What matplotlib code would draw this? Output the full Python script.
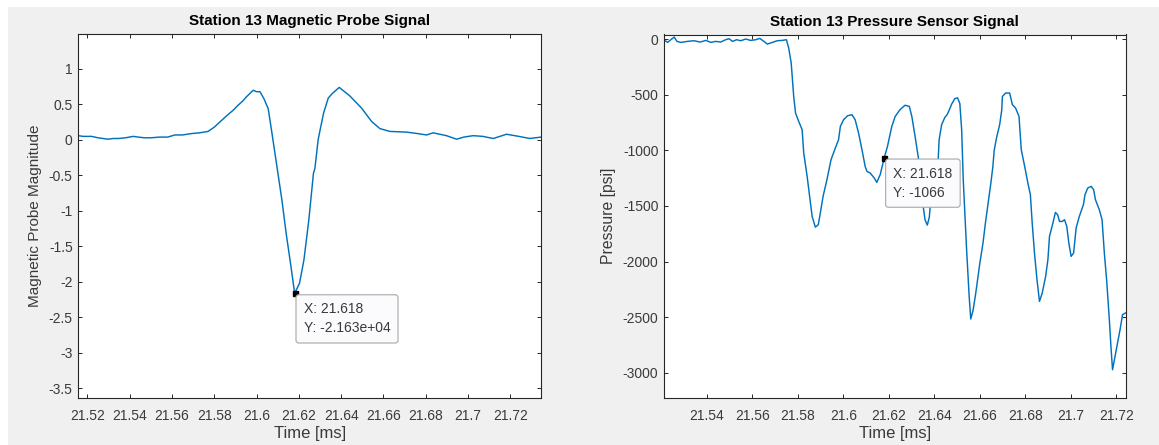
import matplotlib
matplotlib.use("Agg")
import matplotlib.pyplot as plt
from matplotlib.ticker import MultipleLocator, FuncFormatter
from matplotlib.patches import Rectangle

plt.rcParams['font.family'] = ['Liberation Sans', 'DejaVu Sans']
plt.rcParams['axes.unicode_minus'] = False

# ---- Station 13 magnetic probe (raw units, axis shown in 1e4) ----
mag_time = [
    21.5157, 21.5180, 21.5220, 21.5250, 21.5298, 21.5320, 21.5346, 21.5380,
    21.5417, 21.5440, 21.5470, 21.5500, 21.5543, 21.5580, 21.5614, 21.5650,
    21.5693, 21.5730, 21.5771, 21.5800, 21.5818, 21.5840, 21.5866, 21.5890,
    21.5913, 21.5935, 21.5953, 21.5970, 21.5984, 21.6000, 21.6016, 21.6035,
    21.6055, 21.6070, 21.6087, 21.6100, 21.6120, 21.6140, 21.6163, 21.6180,
    21.6203, 21.6224, 21.6247, 21.6269, 21.6276, 21.6291, 21.6299, 21.6317,
    21.6339, 21.6360, 21.6391, 21.6441, 21.6496, 21.6544, 21.6583, 21.6630,
    21.6709, 21.6760, 21.6804, 21.6835, 21.6898, 21.6946, 21.6980, 21.7024,
    21.7070, 21.7119, 21.7182, 21.7240, 21.7292, 21.7345,
]
mag_value = [
    600, 500, 500, 300, 100, 200, 200, 300,
    500, 400, 300, 300, 400, 400, 700, 700,
    900, 1000, 1200, 1800, 2300, 2900, 3600, 4200,
    4900, 5500, 6100, 6600, 7000, 6800, 6800, 5800,
    4400, 1500, -1900, -4500, -8500, -13200, -17900, -21630,
    -20200, -16900, -11300, -4700, -4000, 0, 1200, 3800,
    5900, 6600, 7400, 6200, 4500, 2600, 1600, 1200,
    1100, 900, 700, 1000, 600, 100, 400, 600,
    500, 200, 800, 500, 200, 400,
]

# ---- Station 13 pressure sensor (psi) ----
prs_time = [
    21.5214, 21.5228, 21.5242, 21.5257, 21.5269, 21.5286, 21.5315, 21.5344,
    21.5371, 21.5396, 21.5418, 21.5439, 21.5461, 21.5483, 21.5498, 21.5513,
    21.5531, 21.5549, 21.5571, 21.5593, 21.5615, 21.5633, 21.5651, 21.5666,
    21.5688, 21.5710, 21.5731, 21.5750, 21.5760, 21.5771, 21.5782, 21.5790,
    21.5804, 21.5819, 21.5826, 21.5841, 21.5852, 21.5863, 21.5877, 21.5890,
    21.5899, 21.5911, 21.5928, 21.5946, 21.5965, 21.5979, 21.5987, 21.6001,
    21.6019, 21.6038, 21.6052, 21.6067, 21.6082, 21.6096, 21.6104, 21.6118,
    21.6136, 21.6147, 21.6162, 21.6180, 21.6194, 21.6213, 21.6228, 21.6249,
    21.6271, 21.6290, 21.6301, 21.6315, 21.6330, 21.6337, 21.6351, 21.6359,
    21.6369, 21.6378, 21.6381, 21.6398, 21.6417, 21.6421, 21.6432, 21.6446,
    21.6456, 21.6465, 21.6476, 21.6490, 21.6502, 21.6512, 21.6520, 21.6527,
    21.6541, 21.6553, 21.6560, 21.6570, 21.6582, 21.6600, 21.6614, 21.6624,
    21.6636, 21.6648, 21.6657, 21.6663, 21.6673, 21.6687, 21.6696, 21.6699,
    21.6713, 21.6731, 21.6743, 21.6757, 21.6772, 21.6782,
    21.6797, 21.6811, 21.6822, 21.6830, 21.6840, 21.6851, 21.6862, 21.6874,
    21.6889, 21.6899, 21.6906, 21.6921, 21.6932, 21.6942, 21.6950, 21.6962,
    21.6972, 21.6982, 21.6991, 21.7001, 21.7012, 21.7023, 21.7037, 21.7055,
    21.7062, 21.7074, 21.7089, 21.7100, 21.7108, 21.7125, 21.7137, 21.7147,
    21.7157, 21.7169, 21.7176, 21.7183, 21.7194, 21.7205, 21.7216, 21.7227,
    21.7240,
]
prs_value = [
    -11, -30, -6, 18, -21, -30, -21, -15,
    -27, -12, -30, -21, -27, -6, 3, -21,
    -6, -15, 0, -12, -6, 6, -21, -45,
    -30, -15, -12, -6, -81, -216, -516, -665,
    -740, -815, -1024, -1234, -1414, -1594, -1690, -1669,
    -1563, -1414, -1264, -1084, -979, -905, -785, -725,
    -689, -680, -725, -845, -995, -1145, -1190, -1204,
    -1249, -1288, -1219, -1066, -965, -785, -695, -635,
    -595, -605, -695, -870, -1070, -1264, -1504, -1624,
    -1672, -1600, -1520, -1300, -1075, -905, -770, -705,
    -680, -640, -585, -535, -528, -580, -815, -1264,
    -1863, -2313, -2516, -2440, -2283, -2013, -1830, -1660,
    -1480, -1300, -1150, -1000, -890, -770, -640, -516,
    -485, -485, -590, -620, -695, -995,
    -1145, -1294, -1399, -1653, -1923, -2163, -2358, -2283,
    -2133, -1983, -1774, -1653, -1558, -1579, -1639, -1639,
    -1624, -1684, -1833, -1953, -1923, -1698, -1594, -1489,
    -1399, -1339, -1324, -1354, -1444, -1534, -1624, -1923,
    -2163, -2522, -2762, -2972, -2852, -2732, -2612, -2477,
    -2462,
]

mag_tip = (21.618, -21630)
prs_tip = (21.618, -1066)

mag_xticks = [21.52, 21.54, 21.56, 21.58, 21.60, 21.62, 21.64, 21.66, 21.68, 21.70, 21.72]
prs_xticks = [21.54, 21.56, 21.58, 21.60, 21.62, 21.64, 21.66, 21.68, 21.70, 21.72]

LINE = '#0072BD'
TXT = '#3a3a3a'
AX = '#262626'

fig = plt.figure(figsize=(11.59, 4.45), dpi=100, facecolor='white')
# grey figure panel inside a thin white border
fig.patches.append(Rectangle((8 / 1159, 0), 1 - 8 / 1159, 1 - 7 / 445,
                             transform=fig.transFigure, facecolor='#f0f0f0',
                             edgecolor='none', zorder=-10))

ax1 = fig.add_axes([78.3 / 1159, 1 - 398 / 445, (541 - 78.3) / 1159, (398 - 33.7) / 445])
ax2 = fig.add_axes([664 / 1159, 1 - 398 / 445, (1125.5 - 664) / 1159, (398 - 34.5) / 445])


def style(ax):
    ax.set_facecolor('white')
    for s in ax.spines.values():
        s.set_color(AX)
        s.set_linewidth(0.8)
    ax.tick_params(direction='in', length=3, width=0.7, color=AX,
                   top=True, right=True, labelsize=10, labelcolor=TXT)
    ax.tick_params(axis='x', pad=8)
    ax.tick_params(axis='y', pad=4)


def tick_fmt(scale):
    return FuncFormatter(lambda v, p: f"{round(v / scale, 4):g}")


def datatip(ax, xy, dx, dy):
    ax.plot([xy[0]], [xy[1]], marker='s', ms=3.6, color='black', zorder=5)
    ax.annotate(f"X: {xy[0]:.5g}\nY: {xy[1]:.4g}", xy=xy,
                xytext=(dx, dy), textcoords='offset pixels',
                ha='left', va='top', fontsize=10, color=TXT, linespacing=1.45,
                bbox=dict(boxstyle='round,pad=0.55,rounding_size=0.2',
                          fc='#fbfbfe', ec='#a8a8a8', lw=0.8), zorder=6)


# left panel
style(ax1)
ax1.plot(mag_time, mag_value, color=LINE, lw=1.05)
ax1.set_xlim(21.5157, 21.7345)
ax1.set_ylim(-36370, 14970)
ax1.set_xticks(mag_xticks)
ax1.xaxis.set_major_formatter(tick_fmt(1))
ax1.yaxis.set_major_locator(MultipleLocator(5000))
ax1.yaxis.set_major_formatter(tick_fmt(1e4))
ax1.set_title('Station 13 Magnetic Probe Signal', fontsize=11,
              fontweight='bold', color='black', pad=6)
ax1.set_xlabel('Time [ms]', fontsize=12, color=TXT, labelpad=2)
ax1.set_ylabel('Magnetic Probe Magnitude', fontsize=11, color=TXT, labelpad=5)
datatip(ax1, mag_tip, 9, -9)

# right panel
style(ax2)
ax2.plot(prs_time, prs_value, color=LINE, lw=1.05)
ax2.set_xlim(21.5212, 21.7240)
ax2.set_ylim(-3226, 41)
ax2.set_xticks(prs_xticks)
ax2.xaxis.set_major_formatter(tick_fmt(1))
ax2.yaxis.set_major_locator(MultipleLocator(500))
ax2.yaxis.set_major_formatter(tick_fmt(1))
ax2.set_title('Station 13 Pressure Sensor Signal', fontsize=11,
              fontweight='bold', color='black', pad=6)
ax2.set_xlabel('Time [ms]', fontsize=12, color=TXT, labelpad=2)
ax2.set_ylabel('Pressure [psi]', fontsize=11.3, color=TXT, labelpad=5)
datatip(ax2, prs_tip, 9, -9)

fig.savefig('out.png', dpi=100, facecolor=fig.get_facecolor())
